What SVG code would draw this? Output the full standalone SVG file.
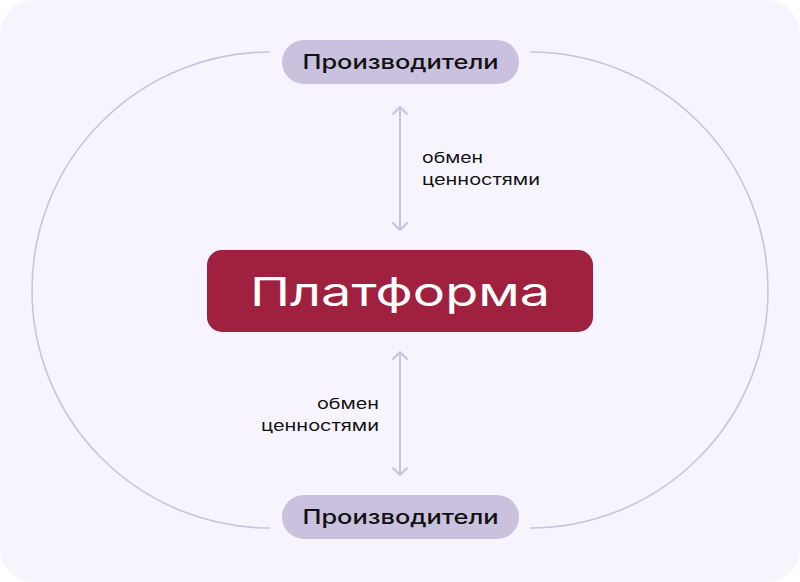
<svg xmlns="http://www.w3.org/2000/svg" width="800" height="582" viewBox="0 0 800 582">
<defs>
<style>
.pill{fill:#C9C1DE}
.pt{font-family:Inter,"Noto Sans",sans-serif;font-size:20px;font-weight:500;fill:#111111;text-anchor:middle}
.lbl{font-family:Inter,"Noto Sans",sans-serif;font-size:15px;fill:#111111}
.loop{fill:none;stroke:#CAC3E0;stroke-width:1.6}
.arr{fill:none;stroke:#CAC3E0;stroke-width:2;stroke-linecap:round;stroke-linejoin:round}
</style>
</defs>
<rect x="0" y="0" width="800" height="582" rx="34" fill="#F7F4FE"/>
<g id="connectors">
<path class="loop" d="M270,52 A238,238 0 0 0 270,528"/>
<path class="loop" d="M530,52 A238,238 0 0 1 530,528"/>
<path class="arr" d="M400,107 V230 M393,114 L400,107 L407,114 M393,223 L400,230 L407,223"/>
<path class="arr" d="M400,352 V475 M393,359 L400,352 L407,359 M393,468 L400,475 L407,468"/>
<text class="lbl" x="422" y="163" textLength="61" lengthAdjust="spacingAndGlyphs">обмен</text>
<text class="lbl" x="422" y="185" textLength="118" lengthAdjust="spacingAndGlyphs">ценностями</text>
<text class="lbl" x="317" y="409" textLength="62" lengthAdjust="spacingAndGlyphs">обмен</text>
<text class="lbl" x="261" y="431" textLength="118" lengthAdjust="spacingAndGlyphs">ценностями</text>
</g>
<g id="top">
<rect class="pill" x="282" y="40" width="237" height="44" rx="22"/>
<text class="pt" x="400.5" y="69" textLength="196" lengthAdjust="spacingAndGlyphs">Производители</text>
</g>
<g id="platform">
<rect x="207" y="250" width="386" height="82" rx="15" fill="#A0213F"/>
<text x="400" y="306" font-family="Inter,'Noto Sans',sans-serif" font-size="40" fill="#FFFFFF" text-anchor="middle" textLength="300" lengthAdjust="spacingAndGlyphs">Платформа</text>
</g>
<g id="bottom">
<rect class="pill" x="282" y="495" width="237" height="44" rx="22"/>
<text class="pt" x="400.5" y="524" textLength="196" lengthAdjust="spacingAndGlyphs">Производители</text>
</g>
</svg>
